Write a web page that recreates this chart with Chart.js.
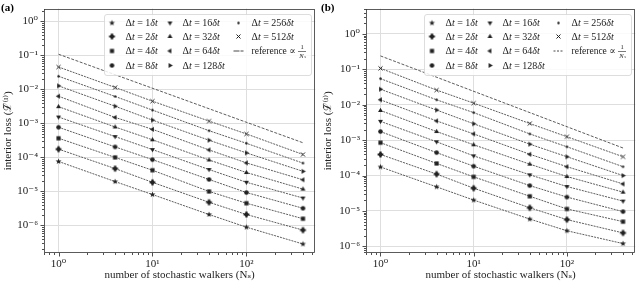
<!DOCTYPE html>
<html lang="en">
<head>
<meta charset="UTF-8">
<title>Interior loss vs number of stochastic walkers</title>
<script src="https://cdn.jsdelivr.net/npm/chart.js"></script>
<style>
  body { margin: 0; background: #fff; }
  .panel { position: absolute; top: 0; width: 320px; height: 283px; }
</style>
</head>
<body>
<div class="panel" style="left:0"><canvas id="chartA" width="320" height="283"></canvas></div>
<div class="panel" style="left:320px"><canvas id="chartB" width="320" height="283"></canvas></div>
<script>
// x values and series keys
const walkers = [1, 4, 10, 40, 100, 400];
const steps = [1, 2, 4, 8, 16, 32, 64, 128, 256, 512];
const refWalkers = [1, 400];

// panel (a), one array per time step
const lossA_dt1   = [7.6e-5, 1.95e-5, 8.1e-6, 2.1e-6, 8.9e-7, 2.85e-7];
const lossA_dt2   = [1.75e-4, 4.7e-5, 1.85e-5, 4.8e-6, 2.1e-6, 7.3e-7];
const lossA_dt4   = [3.66e-4, 1.0e-4, 4.2e-5, 1.0e-5, 4.5e-6, 1.58e-6];
const lossA_dt8   = [7.7e-4, 2.04e-4, 8.6e-5, 2.25e-5, 9.3e-6, 3.2e-6];
const lossA_dt16  = [1.54e-3, 4.1e-4, 1.7e-4, 4.4e-5, 1.86e-5, 6.4e-6];
const lossA_dt32  = [3.1e-3, 7.85e-4, 3.3e-4, 8.4e-5, 3.6e-5, 1.17e-5];
const lossA_dt64  = [6.3e-3, 1.5e-3, 6.7e-4, 1.66e-4, 6.9e-5, 2.2e-5];
const lossA_dt128 = [1.27e-2, 3.2e-3, 1.25e-3, 3.2e-4, 1.36e-4, 3.9e-5];
const lossA_dt256 = [2.43e-2, 6.2e-3, 2.46e-3, 6.1e-4, 2.6e-4, 6.8e-5];
const lossA_dt512 = [4.55e-2, 1.14e-2, 4.5e-3, 1.17e-3, 4.9e-4, 1.22e-4];
const refA = [0.108, 2.7e-4];

// panel (b)
const lossB_dt1   = [1.75e-4, 4.8e-5, 2.03e-5, 5.9e-6, 2.76e-6, 1.2e-6];
const lossB_dt2   = [3.95e-4, 1.1e-4, 4.4e-5, 1.23e-5, 5.7e-6, 2.4e-6];
const lossB_dt4   = [8.5e-4, 2.2e-4, 9.2e-5, 2.6e-5, 1.14e-5, 5.0e-6];
const lossB_dt8   = [1.75e-3, 4.45e-4, 1.84e-4, 5.2e-5, 2.47e-5, 9.6e-6];
const lossB_dt16  = [3.4e-3, 9.0e-4, 3.6e-4, 1.05e-4, 4.9e-5, 1.9e-5];
const lossB_dt32  = [6.9e-3, 1.75e-3, 7.4e-4, 2.1e-4, 9.4e-5, 3.4e-5];
const lossB_dt64  = [1.38e-2, 3.5e-3, 1.5e-3, 4.0e-4, 1.78e-4, 5.8e-5];
const lossB_dt128 = [2.75e-2, 7.1e-3, 2.9e-3, 7.7e-4, 3.4e-4, 1.0e-4];
const lossB_dt256 = [5.46e-2, 1.38e-2, 6.0e-3, 1.5e-3, 6.5e-4, 1.78e-4];
const lossB_dt512 = [0.107, 2.6e-2, 1.11e-2, 2.95e-3, 1.25e-3, 3.4e-4];
const refB = [0.24, 6.0e-4];

const lossA = [lossA_dt1, lossA_dt2, lossA_dt4, lossA_dt8, lossA_dt16, lossA_dt32, lossA_dt64, lossA_dt128, lossA_dt256, lossA_dt512];
const lossB = [lossB_dt1, lossB_dt2, lossB_dt4, lossB_dt8, lossB_dt16, lossB_dt32, lossB_dt64, lossB_dt128, lossB_dt256, lossB_dt512];

const INK = '#222';
const LINE = '#333';
const SERIF = "'Liberation Serif', 'DejaVu Serif', serif";
const markerKinds = ['star', 'plus', 'square', 'circle', 'down', 'up', 'left', 'right', 'point', 'x'];

// small canvases used as point styles (matplotlib-like markers)
function makeMarker(kind) {
  const s = 9, m = s / 2;
  const c = document.createElement('canvas');
  c.width = s; c.height = s;
  const g = c.getContext('2d');
  g.fillStyle = INK; g.strokeStyle = INK;
  g.beginPath();
  const tri = (rot) => {
    for (let i = 0; i < 3; i++) {
      const ang = rot + i * 2 * Math.PI / 3;
      g.lineTo(m + 2.8 * Math.cos(ang), m + 2.8 * Math.sin(ang));
    }
    g.closePath(); g.fill();
  };
  if (kind === 'star') {
    for (let i = 0; i < 10; i++) {
      const r = i % 2 ? 1.3 : 3.1, ang = -Math.PI / 2 + i * Math.PI / 5;
      g.lineTo(m + r * Math.cos(ang), m + r * Math.sin(ang));
    }
    g.closePath(); g.fill();
  } else if (kind === 'plus') {
    g.rect(m - 1.1, m - 2.9, 2.2, 5.8);
    g.rect(m - 2.9, m - 1.1, 5.8, 2.2);
    g.fill();
    g.beginPath(); g.arc(m, m, 1.9, 0, 2 * Math.PI); g.fill();
  } else if (kind === 'square') {
    g.rect(m - 2.1, m - 2.1, 4.2, 4.2); g.fill();
  } else if (kind === 'circle') {
    g.arc(m, m, 2.3, 0, 2 * Math.PI); g.fill();
  } else if (kind === 'down') {
    tri(Math.PI / 2);
  } else if (kind === 'up') {
    tri(-Math.PI / 2);
  } else if (kind === 'left') {
    tri(Math.PI);
  } else if (kind === 'right') {
    tri(0);
  } else if (kind === 'point') {
    g.arc(m, m, 1.2, 0, 2 * Math.PI); g.fill();
  } else if (kind === 'x') {
    g.lineWidth = 1;
    g.moveTo(m - 2, m - 2); g.lineTo(m + 2, m + 2);
    g.moveTo(m + 2, m - 2); g.lineTo(m - 2, m + 2);
    g.stroke();
  }
  return c;
}
const markerImgs = markerKinds.map(makeMarker);

const SUP = { '-': '⁻', '0': '⁰', '1': '¹', '2': '²', '3': '³', '4': '⁴', '5': '⁵', '6': '⁶', '7': '⁷', '8': '⁸', '9': '⁹' };
function isMajor(v) {
  const e = Math.round(Math.log10(v));
  return Math.abs(v / Math.pow(10, e) - 1) < 1e-6;
}
function tickLabel(v) {
  if (!isMajor(v)) return '';
  const e = Math.round(Math.log10(v));
  return '10' + String(e).split('').map(ch => SUP[ch]).join('');
}
// decades plus 2..9 minor ticks, only inside the axis range
function logTicks(scale) {
  const t = [];
  const lo = Math.floor(Math.log10(scale.min)), hi = Math.ceil(Math.log10(scale.max));
  for (let e = lo; e <= hi; e++) {
    for (let k = 1; k < 10; k++) {
      const v = k * Math.pow(10, e);
      if (v >= scale.min && v <= scale.max) t.push({ value: v });
    }
  }
  scale.ticks = t;
}
const gridColor = ctx => (ctx.tick && isMajor(ctx.tick.value)) ? '#dedede' : 'rgba(0,0,0,0)';

function drawParts(ctx, x, y, parts, size) {
  parts.forEach(([txt, it]) => {
    ctx.font = (it ? 'italic ' : '') + size + 'px ' + SERIF;
    ctx.fillText(txt, x, y);
    x += ctx.measureText(txt).width;
  });
  return x;
}

// frame, tick marks, legend and panel tag
const decor = {
  id: 'decor',
  afterDraw(chart, args, opts) {
    const { ctx, chartArea: a, scales } = chart;
    ctx.save();
    ctx.strokeStyle = INK;
    ctx.lineWidth = 0.8;
    ctx.beginPath();
    scales.x.ticks.forEach(t => {
      const p = Math.round(scales.x.getPixelForValue(t.value)) + 0.5;
      ctx.moveTo(p, a.bottom); ctx.lineTo(p, a.bottom + (isMajor(t.value) ? 3.5 : 2));
    });
    scales.y.ticks.forEach(t => {
      const p = Math.round(scales.y.getPixelForValue(t.value)) + 0.5;
      ctx.moveTo(a.left, p); ctx.lineTo(a.left - (isMajor(t.value) ? 3.5 : 2), p);
    });
    ctx.stroke();
    ctx.strokeStyle = '#333';
    ctx.strokeRect(Math.round(a.left) + 0.5, Math.round(a.top) + 0.5, Math.round(a.width) - 1, Math.round(a.height) - 1);

    // legend box
    const bw = 207, bh = 61;
    const bx = Math.round(a.right - 4 - bw) + 0.5, by = Math.round(a.top + 5) + 0.5;
    ctx.beginPath();
    ctx.roundRect(bx, by, bw, bh, 2.5);
    ctx.fillStyle = 'rgba(255,255,255,0.85)';
    ctx.fill();
    ctx.strokeStyle = '#d4d4d4';
    ctx.lineWidth = 0.8;
    ctx.stroke();

    const rows = [8.5, 22, 36.5, 51];
    const colMark = [7.5, 65.5, 134];
    const colText = [21, 78, 147];
    ctx.fillStyle = INK;
    ctx.textBaseline = 'middle';
    ctx.textAlign = 'left';
    steps.forEach((st, i) => {
      const col = Math.floor(i / 4), row = i % 4;
      const img = markerImgs[i];
      ctx.drawImage(img, bx + colMark[col] - img.width / 2, by + rows[row] - img.height / 2);
      drawParts(ctx, bx + colText[col], by + rows[row] + 0.5,
        [['Δ', false], ['t', true], [' = ', false], [String(st), false], ['δt', true]], 10);
    });
    // reference entry
    const ry = by + rows[2];
    ctx.strokeStyle = LINE;
    ctx.lineWidth = 0.9;
    ctx.setLineDash(opts.refDash);
    ctx.beginPath();
    ctx.moveTo(bx + colMark[2] - 5, ry); ctx.lineTo(bx + colMark[2] + 5, ry);
    ctx.stroke();
    ctx.setLineDash([]);
    let tx = drawParts(ctx, bx + colText[2], ry + 0.5, [['reference ', false], ['∝ ', false]], 9.5);
    ctx.textAlign = 'center';
    ctx.font = '6.5px ' + SERIF;
    ctx.fillText('1', tx + 4, ry - 3.5);
    ctx.beginPath();
    ctx.lineWidth = 0.6;
    ctx.strokeStyle = INK;
    ctx.moveTo(tx, ry + 0.5); ctx.lineTo(tx + 8, ry + 0.5);
    ctx.stroke();
    ctx.font = 'italic 6.5px ' + SERIF;
    ctx.fillText('N', tx + 3.3, ry + 4.8);
    ctx.font = 'italic 4.5px ' + SERIF;
    ctx.fillText('s', tx + 7, ry + 6);

    // panel tag
    ctx.textAlign = 'left';
    ctx.textBaseline = 'alphabetic';
    ctx.font = 'bold 11px ' + SERIF;
    ctx.fillStyle = '#000';
    ctx.fillText(opts.tag, 1, 10.5);
    ctx.restore();
  }
};

function makeChart(id, losses, ref, yMin, yMax, leftWidth, rightPad, tag, refDash) {
  const datasets = losses.map((arr, i) => ({
    label: 'Δt = ' + steps[i] + 'δt',
    data: walkers.map((w, j) => ({ x: w, y: arr[j] })),
    showLine: true,
    borderColor: LINE,
    borderWidth: 0.8,
    borderDash: [2, 1],
    pointStyle: markerImgs[i],
    pointRadius: 3
  }));
  datasets.push({
    label: 'reference',
    data: refWalkers.map((w, j) => ({ x: w, y: ref[j] })),
    showLine: true,
    borderColor: LINE,
    borderWidth: 0.8,
    borderDash: [3, 1.5],
    pointRadius: 0
  });
  const font = { family: SERIF, size: 11 };
  return new Chart(document.getElementById(id), {
    type: 'scatter',
    data: { datasets },
    options: {
      responsive: false,
      animation: false,
      layout: { padding: { top: 7, right: rightPad, left: 0, bottom: 0 } },
      plugins: {
        legend: { display: false },
        tooltip: { enabled: false },
        decor: { tag, refDash }
      },
      scales: {
        x: {
          type: 'logarithmic',
          min: 0.741, max: 540,
          afterBuildTicks: logTicks,
          afterFit: s => { s.height = 30; },
          border: { display: false },
          grid: { color: gridColor, lineWidth: 1, tickLength: 4, tickColor: 'rgba(0,0,0,0)' },
          ticks: { autoSkip: false, maxRotation: 0, padding: 1, color: INK, font, callback: tickLabel },
          title: { display: true, text: 'number of stochastic walkers (Nₛ)', color: INK, font, padding: { top: 0, bottom: 1 } }
        },
        y: {
          type: 'logarithmic',
          min: yMin, max: yMax,
          afterBuildTicks: logTicks,
          afterFit: s => { s.width = leftWidth; },
          border: { display: false },
          grid: { color: gridColor, lineWidth: 1, tickLength: 4, tickColor: 'rgba(0,0,0,0)' },
          ticks: { autoSkip: false, padding: 2, color: INK, font, callback: tickLabel },
          title: { display: true, text: 'interior loss (ℒ̃⁽ᴵ⁾)', color: INK, font, padding: { top: 2, bottom: 0 } }
        }
      }
    },
    plugins: [decor]
  });
}

makeChart('chartA', lossA, refA, 1.55e-7, 2.37, 44, 3, '(a)', [6, 1]);
makeChart('chartB', lossB, refB, 6.5e-7, 5.2, 46, 2, '(b)', [2, 1.5]);
</script>
</body>
</html>
